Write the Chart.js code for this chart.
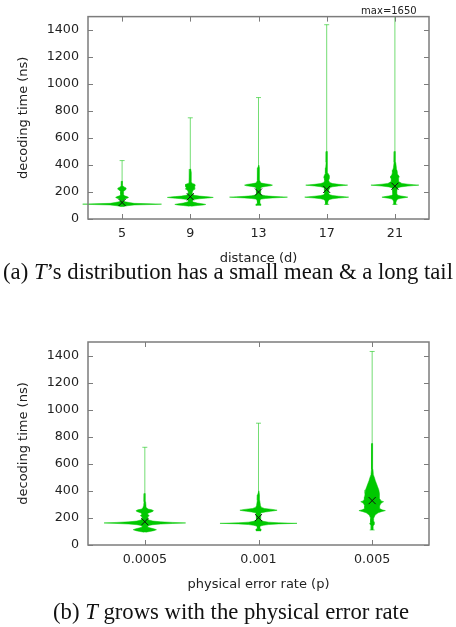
<!DOCTYPE html>
<html><head><meta charset="utf-8">
<script src="https://cdn.jsdelivr.net/npm/chart.js@4.4.1/dist/chart.umd.min.js"></script>
<style>
html,body{margin:0;padding:0;background:#fff;width:456px;height:627px;overflow:hidden;position:relative}
canvas{position:absolute;left:0}
.cap{position:absolute;left:0;width:456px;text-align:center;white-space:nowrap;font-family:'Liberation Serif','Times New Roman',serif;font-size:22.7px;line-height:1;color:#111}
</style></head><body>
<canvas id="ca" width="456" height="266" style="top:0"></canvas>
<div class="cap" style="top:261px">(a) <i>T</i>’s distribution has a small mean &amp; a long tail</div>
<canvas id="cb" width="456" height="292" style="top:300px"></canvas>
<div class="cap" style="top:601px;left:3px">(b) <i>T</i> grows with the physical error rate</div>
<script>
// ---- data ----
const yTicks = [0, 200, 400, 600, 800, 1000, 1200, 1400];
const yMax = 1500;

const distances = ['5', '9', '13', '17', '21'];
const distMin = [95, 100, 105, 108, 108];
const distMax = [433, 750, 900, 1440, 1650];
const distMean = [122, 165, 200, 219, 243];
// violin profiles: [decoding time (ns), relative density]
const violinD5 = [[92,0.5],[98,5],[104,12],[107,28],[110,39.5],[113,28],[116,12],[122,7],[128,3],[135,1.5],[148,2.5],[154,5],[160,6.5],[166,5],[172,2.5],[180,1.5],[205,1.5],[214,3],[220,4],[230,4],[236,2.5],[245,0.8],[280,0.4]];
const violinD9 = [[95,1],[100,7],[104,13],[108,15.5],[112,13],[118,7],[126,3],[132,2],[140,2.5],[145,3],[150,9],[154,15],[157,20],[160,23],[163,20],[166,15],[170,9],[176,4],[185,2.5],[200,2],[215,3],[222,5],[230,4],[240,4.5],[250,5],[258,4.5],[264,2],[275,1],[300,0.9],[330,1.3],[345,0.8],[370,0.4]];
const violinD13 = [[100,2],[104,2.5],[108,2.5],[112,2],[118,1],[140,1.5],[148,3],[152,7],[156,14],[159,22],[162,29],[165,22],[168,14],[172,7],[178,3],[190,2],[210,2],[228,2.5],[236,3],[241,7],[246,12],[251,14],[256,12],[261,7],[266,3],[272,2],[285,1.2],[320,1.1],[360,1],[380,0.7],[400,0.3]];
const violinD17 = [[108,1],[120,1],[135,1.5],[145,3],[150,6],[155,12],[159,18],[162,22],[165,18],[169,12],[174,6],[180,3],[190,2],[210,2],[225,2.5],[233,3],[239,6],[245,12],[248,17],[251,21],[254,17],[257,12],[263,6],[270,3],[285,2],[300,2.5],[310,3],[320,2.5],[340,1.3],[380,1],[420,0.6],[500,0.4]];
const violinD21 = [[108,1],[125,1],[140,2],[148,3],[153,6],[158,10],[162,13],[166,10],[171,6],[176,3],[185,2],[210,2],[225,2.5],[232,3],[238,6],[244,13],[248,19],[251,24],[254,19],[258,13],[264,7],[272,5],[280,3.5],[295,3.5],[305,4],[312,4.5],[318,4],[330,3],[345,2.5],[365,2],[380,1.5],[420,0.8],[500,0.4]];

const rates = ['0.0005', '0.001', '0.005'];
const rateMin = [100, 105, 111];
const rateMax = [722, 900, 1430];
const rateMean = [172, 202, 328];
const violinP1 = [[95,1],[100,5],[106,9],[113,11.7],[120,9],[127,5],[133,2.5],[140,3],[145,4],[150,8],[155,16],[159,28],[163,41],[167,28],[171,16],[177,8],[185,4],[198,2.5],[208,3],[217,4.5],[226,3],[235,3],[242,6],[248,8],[254,8.7],[260,7],[266,3],[275,2],[290,1.2],[320,0.8],[380,0.4]];
const violinP2 = [[104,2],[108,2.5],[113,2.7],[118,2.5],[122,1],[135,1.5],[140,2],[146,5],[151,10],[156,20],[160,38.7],[164,20],[169,10],[175,5],[185,2],[215,2],[232,2.5],[238,3],[244,7],[249,12],[253,16],[257,18.7],[261,16],[265,12],[270,6],[278,3],[290,2],[330,1.2],[370,1],[400,0.4]];
const violinP3 = [[111,1],[140,1],[152,2],[160,2.5],[168,2],[180,1.3],[197,1.5],[222,3],[238,6],[248,10],[254,13.3],[260,10],[270,7.5],[288,7.5],[305,8.5],[314,10],[320,11.5],[326,9],[340,7.8],[357,7.5],[380,7.2],[407,6.7],[430,5.5],[456,4.2],[475,3.2],[493,2.5],[520,1.2],[560,0.8],[650,0.6],[750,0.3]];

// ---- drawing ----
const VIOLIN = '#00c800';
const WHISKER = 'rgba(30,200,30,0.62)';
const FONT = "'DejaVu Sans', sans-serif";

function violinPoints(profile, i, unit) {
  const right = profile.map(([v, d]) => ({x: i + d * unit, y: v}));
  const left = profile.slice().reverse().map(([v, d]) => ({x: i - d * unit, y: v}));
  return right.concat(left);
}

const framePlugin = {
  id: 'frame',
  afterDatasetsDraw(chart, args, opts) {
    const {ctx, chartArea: a} = chart;
    const x = chart.scales.x, y = chart.scales.y;
    ctx.save();
    ctx.strokeStyle = '#7c7c7c';
    ctx.lineWidth = 1;
    ctx.beginPath();
    y.ticks.forEach(t => {
      const p = Math.round(y.getPixelForValue(t.value)) + 0.5;
      ctx.moveTo(a.left, p); ctx.lineTo(a.left + 5, p);
      ctx.moveTo(a.right, p); ctx.lineTo(a.right - 5, p);
    });
    x.ticks.forEach(t => {
      const p = Math.round(x.getPixelForValue(t.value)) + 0.5;
      ctx.moveTo(p, a.bottom); ctx.lineTo(p, a.bottom - 5);
      ctx.moveTo(p, a.top); ctx.lineTo(p, a.top + 5);
    });
    ctx.stroke();
    ctx.lineWidth = 1.5;
    ctx.strokeRect(a.left, a.top, a.right - a.left, a.bottom - a.top);
    if (opts && opts.noteIndex != null) {
      ctx.font = '10px ' + FONT;
      ctx.fillStyle = '#222';
      ctx.textAlign = 'center';
      ctx.textBaseline = 'middle';
      ctx.fillText(opts.note, x.getPixelForValue(opts.noteIndex) - 6, a.top - 5);
    }
    ctx.restore();
  }
};

function makeChart(id, labels, profiles, mins, maxs, means, unit, padTop, xTitle, frameOpts) {
  const datasets = [];
  labels.forEach((_, i) => {
    datasets.push({
      data: [{x: i, y: means[i]}], showLine: false,
      pointStyle: 'crossRot', pointRadius: 5, pointBorderColor: '#111',
      pointBorderWidth: 1, pointBackgroundColor: 'rgba(0,0,0,0)', order: 0
    });
    datasets.push({
      data: violinPoints(profiles[i], i, unit), showLine: true, fill: 'shape',
      backgroundColor: VIOLIN, borderColor: VIOLIN, borderWidth: 0.5,
      pointRadius: 0, tension: 0, order: 1, clip: false
    });
    datasets.push({
      data: [{x: i, y: mins[i]}, {x: i, y: maxs[i]}], showLine: true,
      borderColor: WHISKER, borderWidth: 1, pointStyle: 'line', pointRadius: 2.5,
      pointBorderColor: WHISKER, pointBorderWidth: 1, order: 2
    });
  });
  return new Chart(document.getElementById(id), {
    type: 'scatter',
    data: {datasets},
    plugins: [framePlugin],
    options: {
      responsive: false, animation: false, devicePixelRatio: 1,
      layout: {padding: {top: padTop, right: 27, left: 0, bottom: 0}},
      plugins: {legend: {display: false}, tooltip: {enabled: false}, frame: frameOpts},
      scales: {
        x: {
          type: 'linear', min: -0.5, max: labels.length - 0.5,
          afterBuildTicks: s => { s.ticks = labels.map((_, i) => ({value: i})); },
          afterFit: s => { s.height = 47; },
          grid: {display: false, drawTicks: false}, border: {display: false},
          ticks: {autoSkip: false, maxRotation: 0, padding: 7, color: '#222',
            font: {family: FONT, size: 12.7}, callback: (v, idx) => labels[idx]},
          title: {display: true, text: xTitle, color: '#222', padding: {top: 0, bottom: 0},
            font: {family: FONT, size: 13}}
        },
        y: {
          type: 'linear', min: 0, max: yMax,
          afterBuildTicks: s => { s.ticks = yTicks.map(v => ({value: v})); },
          afterFit: s => { s.width = 88; },
          grid: {display: false, drawTicks: false}, border: {display: false},
          ticks: {padding: 9, color: '#222', font: {family: FONT, size: 12.7},
            callback: v => String(v)},
          title: {display: true, text: 'decoding time (ns)', color: '#222',
            padding: {top: 16, bottom: 0}, font: {family: FONT, size: 13}}
        }
      }
    }
  });
}

const overIdx = distMax.findIndex(v => v > yMax);
makeChart('ca', distances, [violinD5, violinD9, violinD13, violinD17, violinD21],
  distMin, distMax, distMean, 1 / 68.3, 15, 'distance (d)',
  {note: 'max=' + distMax[overIdx], noteIndex: overIdx});
makeChart('cb', rates, [violinP1, violinP2, violinP3],
  rateMin, rateMax, rateMean, 1 / 114.2, 42, 'physical error rate (p)', {});
</script>
</body></html>
